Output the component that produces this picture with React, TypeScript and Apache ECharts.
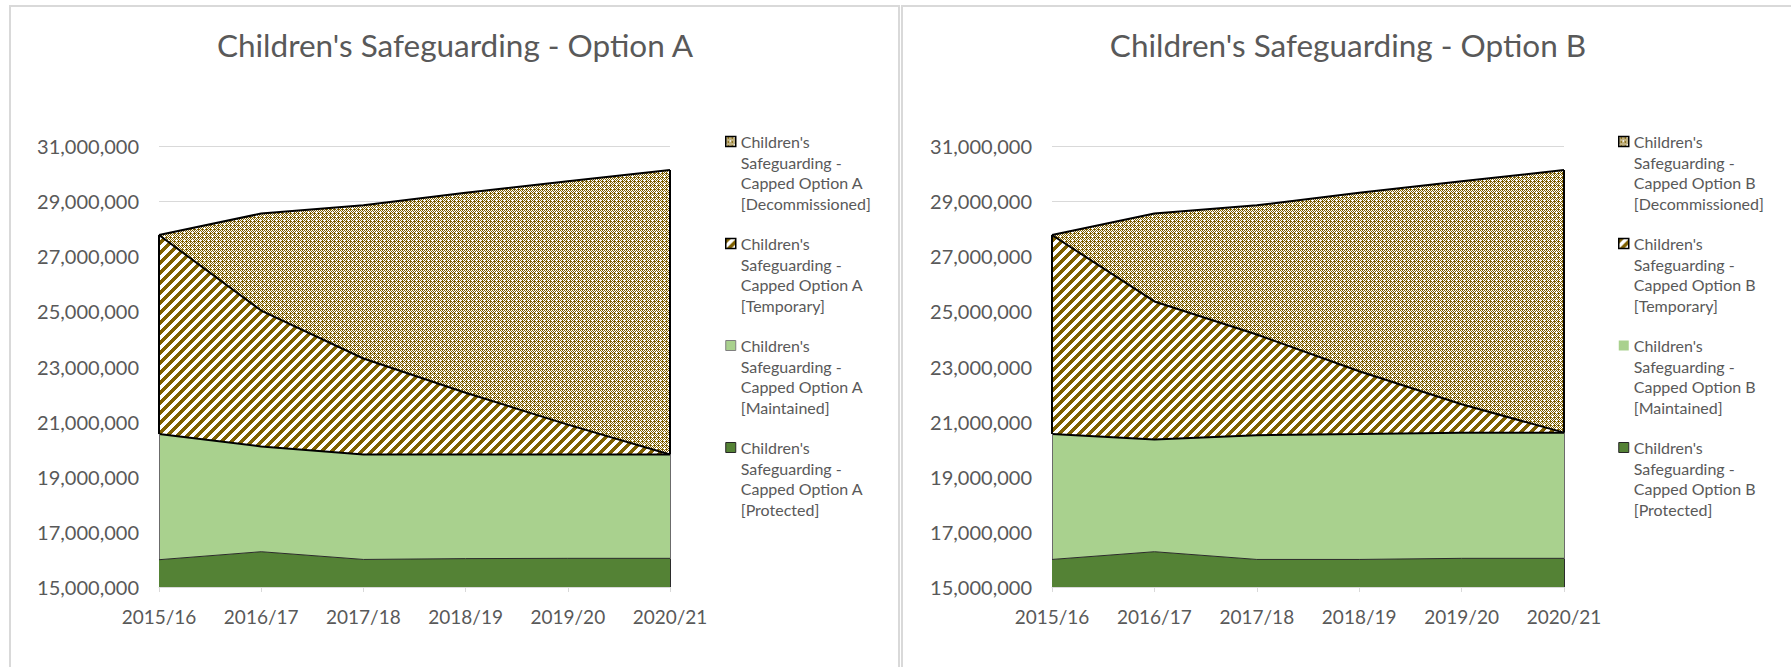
import React, { useEffect, useRef } from "react";
import * as echarts from "echarts";

// ---------- data ----------
const categories = ["2015/16", "2016/17", "2017/18", "2018/19", "2019/20", "2020/21"];
const yMin = 15000000;
const yMax = 31000000;
const yInterval = 2000000;

const titleA = "Children's Safeguarding - Option A";
const titleB = "Children's Safeguarding - Option B";

const namesA = [
  "Children's Safeguarding - Capped Option A [Protected]",
  "Children's Safeguarding - Capped Option A [Maintained]",
  "Children's Safeguarding - Capped Option A [Temporary]",
  "Children's Safeguarding - Capped Option A [Decommissioned]",
];
const namesB = [
  "Children's Safeguarding - Capped Option B [Protected]",
  "Children's Safeguarding - Capped Option B [Maintained]",
  "Children's Safeguarding - Capped Option B [Temporary]",
  "Children's Safeguarding - Capped Option B [Decommissioned]",
];

const protectedA = [15990000, 16280000, 16000000, 16030000, 16040000, 16040000];
const maintainedA = [4560000, 3820000, 3810000, 3780000, 3770000, 3770000];
const temporaryA = [7220000, 4930000, 3480000, 2240000, 1080000, 0];
const decommissionedA = [0, 3520000, 5560000, 7250000, 8830000, 10320000];

const protectedB = [16000000, 16280000, 16000000, 16000000, 16040000, 16040000];
const maintainedB = [4550000, 4070000, 4510000, 4550000, 4560000, 4560000];
const temporaryB = [7220000, 5010000, 3650000, 2280000, 1030000, 0];
const decommissionedB = [0, 3190000, 4690000, 6470000, 8090000, 9530000];

// ---------- styling ----------
const FONT = "Lato";
const GREY = "#595959";
const LIGHT = "#d9d9d9";
const BROWN = "#7f6000";
const LIGHT_GREEN = "#a9d18e";
const DARK_GREEN = "#548235";

function makeCanvas(size: number, draw: (x: number, y: number) => boolean) {
  const c = document.createElement("canvas");
  c.width = size;
  c.height = size;
  const ctx = c.getContext("2d")!;
  ctx.fillStyle = "#ffffff";
  ctx.fillRect(0, 0, size, size);
  ctx.fillStyle = BROWN;
  for (let y = 0; y < size; y++) {
    for (let x = 0; x < size; x++) {
      if (draw(x, y)) ctx.fillRect(x, y, 1, 1);
    }
  }
  return c;
}

function makePatterns() {
  const hatch = makeCanvas(10, (x, y) => (x + y) % 10 < 5);
  const plus = new Set(["4,4", "3,4", "5,4", "4,3", "4,5", "0,0"]);
  const dots = makeCanvas(8, (x, y) => {
    if (plus.has(x + "," + y)) return false;
    return (x + y) % 2 === 0 || (x % 4 === 2 && y % 4 === 1);
  });
  return {
    hatch: { image: hatch, repeat: "repeat", imageWidth: 10, imageHeight: 10 },
    dots: { image: dots, repeat: "repeat", imageWidth: 8, imageHeight: 8 },
  };
}

// three leading blank lines put the first text line level with the legend icon
function wrapName(name: string) {
  return (
    "\n\n\n" +
    name
      .replace("Children's ", "Children's\n")
      .replace("Safeguarding - ", "Safeguarding -\n")
      .replace(" [", "\n[")
  );
}

export default function App() {
  const ref = useRef<HTMLDivElement>(null);

  useEffect(() => {
    if (!ref.current) return;
    const chart = echarts.init(ref.current, undefined, { renderer: "svg" });
    const pats = makePatterns();

    const grids = [
      { left: 159, right: 1791 - 670, top: 146, bottom: 667 - 587 },
      { left: 1052, right: 1791 - 1564, top: 146, bottom: 667 - 587 },
    ];

    const buildSeries = (gi: number, names: string[], vals: number[][]) => {
      const styles = [
        { line: { color: "#2b2b2b", width: 1 }, fill: DARK_GREEN, solid: DARK_GREEN, z: 5, edge: { color: "#2b2b2b", width: 1 } },
        { line: { color: "#000000", width: 2 }, fill: LIGHT_GREEN, solid: LIGHT_GREEN, z: 4, edge: { color: "#6b6b6b", width: 1 } },
        { line: { color: "#000000", width: 2 }, fill: pats.hatch, solid: BROWN, z: 3, edge: { color: "#000000", width: 2 } },
        { line: { color: "#000000", width: 2 }, fill: pats.dots, solid: BROWN, z: 2, edge: { color: "#000000", width: 2 } },
      ];
      const low = categories.map(() => yMin);
      let cum = categories.map(() => 0);
      const last = categories.length - 1;
      return vals.map((v, k) => {
        const hi = cum.map((c, i) => c + v[i]);
        const lo = k === 0 ? low : cum.slice();
        const edges: any[] = [];
        [0, last].forEach((i) => {
          if (hi[i] - lo[i] > 0) {
            edges.push([
              { coord: [categories[i], lo[i]] },
              { coord: [categories[i], hi[i]] },
            ]);
          }
        });
        cum = hi;
        const st = styles[k];
        return {
          type: "line",
          name: names[k],
          stack: "stack" + gi,
          xAxisIndex: gi,
          yAxisIndex: gi,
          data: v,
          symbol: "none",
          showSymbol: false,
          z: st.z,
          lineStyle: st.line,
          itemStyle: { color: st.solid },
          areaStyle: { color: st.fill, opacity: 1 },
          emphasis: { disabled: true },
          markLine: {
            silent: true,
            symbol: ["none", "none"],
            label: { show: false },
            lineStyle: { ...st.edge, type: "solid" },
            emphasis: { disabled: true },
            data: edges,
          },
        };
      });
    };

    const legendFor = (names: string[], left: number, maintainedBorder: boolean) => {
      const icons = [
        { color: DARK_GREEN, borderColor: "#262626", borderWidth: 1 },
        maintainedBorder
          ? { color: LIGHT_GREEN, borderColor: "#7f7f7f", borderWidth: 1 }
          : { color: LIGHT_GREEN, borderWidth: 0 },
        { color: pats.hatch, borderColor: "#000000", borderWidth: 1.5 },
        { color: pats.dots, borderColor: "#000000", borderWidth: 1.5 },
      ];
      const order = [3, 2, 1, 0];
      return {
        orient: "vertical",
        left,
        top: 69.75,
        padding: 0,
        itemGap: -41.5,
        itemWidth: 10,
        itemHeight: 10,
        selectedMode: false,
        formatter: wrapName,
        textStyle: {
          color: GREY,
          fontFamily: FONT,
          fontSize: 16,
          lineHeight: 20.5,
        },
        data: order.map((k) => ({ name: names[k], icon: "rect", itemStyle: icons[k] })),
      };
    };

    const titleStyle = { color: GREY, fontFamily: FONT, fontSize: 31.5, fontWeight: "normal" };

    const option: any = {
      animation: false,
      backgroundColor: "#ffffff",
      title: [
        { text: titleA, left: 455, top: 29, textAlign: "center", padding: 0, textStyle: titleStyle },
        { text: titleB, left: 1348, top: 29, textAlign: "center", padding: 0, textStyle: titleStyle },
      ],
      legend: [legendFor(namesA, 725, true), legendFor(namesB, 1618, false)],
      grid: grids,
      xAxis: [0, 1].map((i) => ({
        type: "category",
        gridIndex: i,
        data: categories,
        boundaryGap: false,
        axisLine: { lineStyle: { color: LIGHT, width: 1 } },
        axisTick: { show: true, length: 5, lineStyle: { color: LIGHT } },
        axisLabel: { color: GREY, fontFamily: FONT, fontSize: 19, margin: 20, interval: 0 },
      })),
      yAxis: [0, 1].map((i) => ({
        type: "value",
        gridIndex: i,
        min: yMin,
        max: yMax,
        interval: yInterval,
        axisLine: { show: false },
        axisTick: { show: false },
        splitLine: { lineStyle: { color: LIGHT, width: 1 } },
        axisLabel: {
          color: GREY,
          fontFamily: FONT,
          fontSize: 20,
          margin: 20,
          formatter: (v: number) => v.toLocaleString("en-US"),
        },
      })),
      graphic: [
        {
          type: "rect",
          silent: true,
          shape: { x: 10, y: 6, width: 889, height: 700 },
          style: { fill: "none", stroke: LIGHT, lineWidth: 2 },
        },
        {
          type: "rect",
          silent: true,
          shape: { x: 902, y: 6, width: 1000, height: 700 },
          style: { fill: "none", stroke: LIGHT, lineWidth: 2 },
        },
      ],
      series: [
        ...buildSeries(0, namesA, [protectedA, maintainedA, temporaryA, decommissionedA]),
        ...buildSeries(1, namesB, [protectedB, maintainedB, temporaryB, decommissionedB]),
      ],
    };

    chart.setOption(option);
    return () => chart.dispose();
  }, []);

  return (
    <div
      ref={ref}
      style={{ position: "fixed", left: 0, top: 0, width: 1791, height: 667, background: "#fff" }}
    />
  );
}
